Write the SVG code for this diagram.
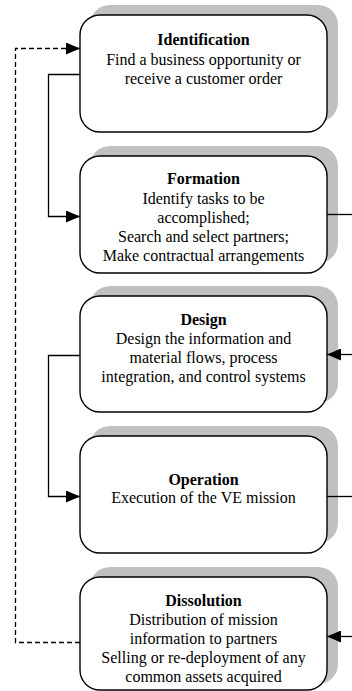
<svg xmlns="http://www.w3.org/2000/svg" width="352" height="691" viewBox="0 0 352 691">
  <style>
    .shadow { fill: #c0c0c0; stroke: none; }
    .box { fill: #ffffff; stroke: #000000; stroke-width: 1.4; }
    text { font-family: "Liberation Serif", "Times New Roman", serif; font-size: 16px; fill: #000000; text-anchor: middle; }
    .title { font-weight: bold; }
    .link { fill: none; stroke: #000000; stroke-width: 1.3; }
    .dash { stroke-dasharray: 5 3; }
  </style>
  <defs>
    <marker id="arrow" viewBox="0 0 14 12" refX="14" refY="6" markerWidth="14" markerHeight="12" markerUnits="userSpaceOnUse" orient="auto">
      <path d="M0,0 L14,6 L0,12 Z" fill="#000000"/>
    </marker>
  </defs>

  <g id="identification">
    <rect class="shadow" x="90" y="5" width="248" height="117" rx="20"/>
    <rect class="box" x="80" y="15" width="247" height="117" rx="20"/>
    <text x="203.5" y="45" class="title">Identification</text>
    <text x="203.5" y="65">Find a business opportunity or</text>
    <text x="203.5" y="84">receive a customer order</text>
  </g>

  <g id="formation">
    <rect class="shadow" x="90" y="146" width="248" height="117" rx="20"/>
    <rect class="box" x="80" y="156" width="247" height="117" rx="20"/>
    <text x="203.5" y="184" class="title">Formation</text>
    <text x="203.5" y="204">Identify tasks to be</text>
    <text x="203.5" y="223">accomplished;</text>
    <text x="203.5" y="242">Search and select partners;</text>
    <text x="203.5" y="261">Make contractual arrangements</text>
  </g>

  <g id="design">
    <rect class="shadow" x="90" y="286" width="248" height="117" rx="20"/>
    <rect class="box" x="80" y="296" width="247" height="116" rx="20"/>
    <text x="203.5" y="325" class="title">Design</text>
    <text x="203.5" y="344">Design the information and</text>
    <text x="203.5" y="363">material flows, process</text>
    <text x="203.5" y="382">integration, and control systems</text>
  </g>

  <g id="operation">
    <rect class="shadow" x="90" y="426" width="248" height="117" rx="20"/>
    <rect class="box" x="80" y="436" width="247" height="117" rx="20"/>
    <text x="203.5" y="485" class="title">Operation</text>
    <text x="203.5" y="503">Execution of the VE mission</text>
  </g>

  <g id="dissolution">
    <rect class="shadow" x="90" y="567" width="248" height="117" rx="20"/>
    <rect class="box" x="80" y="577" width="247" height="113" rx="20"/>
    <text x="203.5" y="606" class="title">Dissolution</text>
    <text x="203.5" y="625">Distribution of mission</text>
    <text x="203.5" y="644">information to partners</text>
    <text x="203.5" y="663">Selling or re-deployment of any</text>
    <text x="203.5" y="682">common assets acquired</text>
  </g>

  <!-- connectors, drawn over the box shadows -->
  <g id="connectors">
    <path class="link" d="M80,74.5 H48.5 V216.5 H80" marker-end="url(#arrow)"/>
    <path class="link" d="M327,214.5 H352"/>
    <path class="link" d="M352,354.5 H327" marker-end="url(#arrow)"/>
    <path class="link" d="M80,355.5 H48.5 V496.5 H80" marker-end="url(#arrow)"/>
    <path class="link" d="M327,496.5 H352"/>
    <path class="link" d="M352,636.5 H327" marker-end="url(#arrow)"/>
    <path class="link dash" d="M80,642.5 H15.5 V48.5 H80" marker-end="url(#arrow)"/>
  </g>
</svg>
